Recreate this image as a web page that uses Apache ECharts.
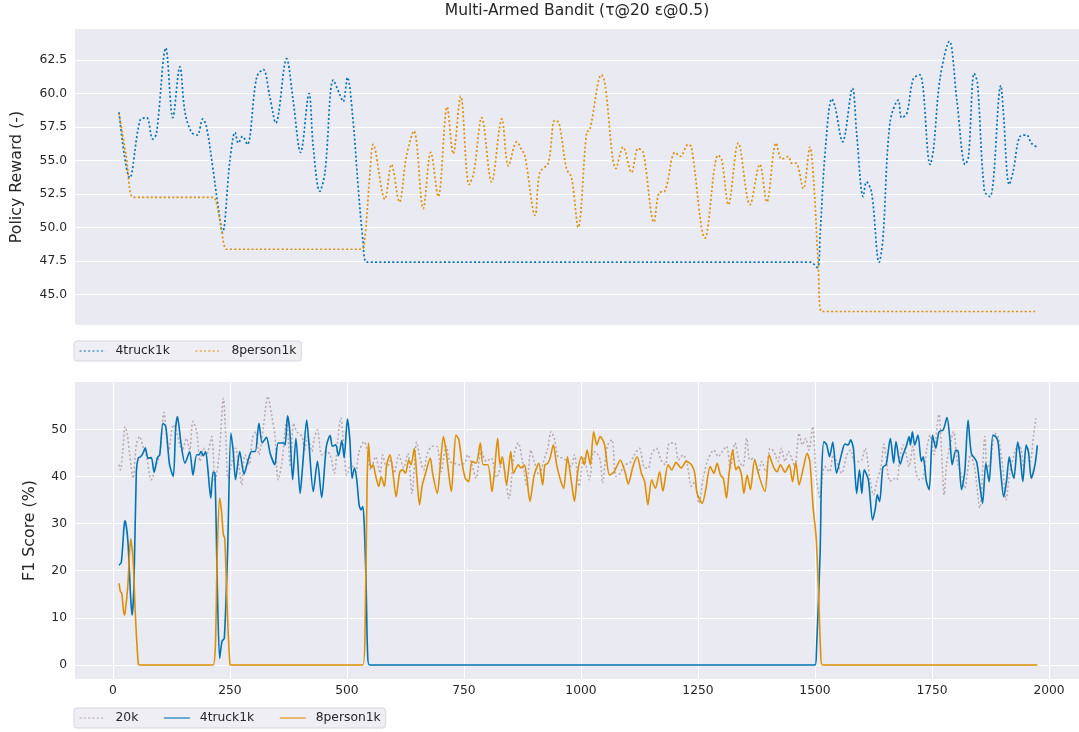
<!DOCTYPE html>
<html><head><meta charset="utf-8">
<script src="https://cdn.jsdelivr.net/npm/echarts@6/dist/echarts.min.js"></script>
<style>html,body{margin:0;padding:0;background:#fff}#c{width:1079px;height:732px}</style>
</head><body><div id="c"></div>
<script>
// ---- tick labels ----
const xTicks = [0, 250, 500, 750, 1000, 1250, 1500, 1750, 2000];
const rewardTicks = [45, 47.5, 50, 52.5, 55, 57.5, 60, 62.5];
const f1Ticks = [0, 10, 20, 30, 40, 50];

// ---- top panel: Policy Reward ----
const rewardTruck = [[13,58.6],[36,53.7],[58,58.0],[72,58.2],[85,56.6],[93,57.0],[113,63.4],[128,58.2],[143,62.0],[154,58.6],
[168,57.1],[180,56.9],[192,58.1],[200,57.5],[214,54.3],[225,51.5],[234,49.6],[250,55.0],[261,57.1],[268,56.3],[277,56.8],[287,56.2],
[307,61.2],[321,61.8],[335,59.8],[348,57.8],[371,62.6],[385,59.5],[401,55.6],[419,60.0],[428,56.0],[442,52.7],[453,54.1],
[471,61.0],[485,59.9],[492,59.4],[501,61.2],[513,58.0],[524,53.0],[534,49.1],[542,47.4],[560,47.4],[700,47.4],[900,47.4],
[1100,47.4],[1300,47.4],[1490,47.4],[1505,47.0],[1511,49.6],[1522,55.8],[1536,59.6],[1543,59.0],[1559,56.4],[1580,60.4],
[1589,57.0],[1603,52.3],[1610,53.4],[1621,52.6],[1637,47.4],[1645,49.1],[1660,57.8],[1678,59.5],[1685,58.2],[1696,58.5],
[1710,61.1],[1724,61.4],[1746,54.7],[1753,55.8],[1767,61.1],[1787,63.9],[1803,59.5],[1821,54.7],[1828,55.3],[1840,61.5],
[1847,60.8],[1862,52.7],[1874,52.3],[1897,60.6],[1902,58.8],[1915,53.2],[1924,54.3],[1938,56.8],[1952,56.9],[1962,56.3],[1974,56.0]];

const rewardPerson = [[13,58.5],[28,55.4],[43,52.25],[60,52.25],[100,52.25],[150,52.25],[200,52.25],[214,52.25],[229,50.5],
[243,48.37],[260,48.37],[350,48.37],[450,48.37],[531,48.37],[538,49.1],[549,54.0],[556,56.2],[581,52.1],[595,54.7],[612,51.9],
[627,55.3],[643,57.2],[663,51.4],[679,55.6],[695,52.3],[714,59.0],[727,55.5],[743,59.8],[761,53.2],[771,54.1],[788,58.2],
[809,53.4],[831,58.1],[845,54.6],[863,56.4],[873,55.8],[880,55.4],[902,50.9],[912,54.1],[930,54.8],[944,58.0],[953,57.8],
[969,54.4],[980,53.7],[994,50.0],[1012,57.1],[1019,57.3],[1044,61.4],[1051,60.8],[1075,54.4],[1090,56.0],[1108,54.1],
[1122,55.9],[1133,55.6],[1156,50.4],[1167,52.6],[1179,52.7],[1201,55.6],[1212,55.3],[1229,56.2],[1236,56.0],[1265,49.2],
[1293,55.4],[1301,55.0],[1315,51.7],[1336,56.3],[1361,51.7],[1382,54.7],[1397,51.9],[1417,56.3],[1429,55.1],[1443,55.3],
[1450,54.8],[1459,54.8],[1475,52.9],[1489,56.0],[1498,53.0],[1507,47.1],[1514,43.72],[1530,43.72],[1700,43.72],[1850,43.72],[1974,43.72]];

// ---- bottom panel: F1 Score ----
const f1Base20k = [[13,42.5],[16,41.4],[21,45.3],[26,50.6],[31,48.8],[36,44.6],[43,39.6],[50,46.7],[57,48.5],[64,46.4],[71,44.6],
[82,39.3],[93,42.5],[100,44.6],[109,53.6],[119,45.3],[129,51.0],[136,49.5],[143,46.7],[148,45.3],[157,48.1],[164,45.6],[171,51.7],
[179,49.5],[186,43.2],[193,46.0],[200,44.6],[211,48.5],[218,38.9],[227,44.6],[236,56.6],[241,48.8],[246,39.6],[253,42.5],[262,46.0],
[269,42.5],[275,38.2],[282,44.6],[291,42.5],[298,48.1],[305,49.5],[312,44.6],[321,50.2],[331,57.0],[339,53.1],[346,48.8],[353,39.3],
[361,42.8],[371,51.7],[379,42.1],[386,51.3],[393,49.5],[404,48.5],[409,45.5],[416,48.5],[425,45.3],[430,48.1],[437,49.9],[446,44.6],
[456,45.3],[464,44.6],[473,40.7],[480,47.4],[487,52.4],[494,45.3],[500,40.3],[509,42.8],[518,40.7],[526,45.3],[537,47.4],[544,45.3],
[551,41.4],[561,44.2],[571,40.7],[576,44.6],[585,41.8],[594,43.5],[601,40.7],[611,44.6],[621,41.8],[630,44.9],[639,36.4],[649,47.3],
[656,43.9],[664,41.4],[672,44.9],[683,46.4],[692,46.4],[701,41.0],[712,46.4],[720,43.2],[730,42.8],[739,42.5],[751,42.8],[758,44.6],
[766,42.8],[776,39.6],[787,45.3],[798,43.2],[808,43.9],[820,39.8],[832,43.2],[846,35.4],[857,44.6],[866,47.1],[875,43.2],[884,38.2],
[893,45.6],[900,43.2],[911,40.3],[920,43.2],[929,46.0],[936,49.5],[943,48.1],[951,44.2],[961,43.9],[970,43.2],[979,42.1],[986,44.6],
[996,37.9],[1006,44.2],[1018,39.3],[1027,45.3],[1034,44.9],[1041,43.5],[1046,38.6],[1056,46.4],[1066,47.8],[1075,40.0],[1084,40.7],
[1093,42.5],[1104,42.8],[1114,44.6],[1125,46.0],[1136,41.8],[1144,41.8],[1151,44.9],[1161,46.0],[1171,43.5],[1180,42.5],[1189,47.1],
[1200,47.1],[1208,43.5],[1218,44.6],[1227,42.5],[1236,37.9],[1243,38.9],[1252,34.3],[1261,39.6],[1271,43.5],[1284,45.6],[1293,44.2],
[1302,45.3],[1311,46.4],[1319,41.8],[1329,47.1],[1338,43.2],[1346,42.1],[1354,48.1],[1361,43.5],[1369,43.9],[1379,40.7],[1386,43.2],
[1395,41.0],[1404,46.0],[1412,45.3],[1421,43.2],[1428,46.0],[1436,43.2],[1443,45.3],[1450,43.9],[1457,42.1],[1466,49.2],[1473,46.7],
[1480,48.1],[1487,45.6],[1495,50.6],[1503,39.6],[1511,35.4],[1516,40.3],[1521,42.1],[1531,41.0],[1539,44.6],[1546,43.2],[1557,40.7],
[1568,44.6],[1576,45.6],[1584,43.2],[1593,43.2],[1600,43.5],[1607,46.0],[1618,38.9],[1625,36.1],[1632,38.9],[1641,42.1],[1647,46.9],
[1652,43.9],[1660,39.0],[1668,39.6],[1675,39.3],[1681,43.9],[1689,46.7],[1695,44.6],[1701,42.1],[1709,46.4],[1716,40.7],[1724,39.3],
[1731,39.6],[1739,46.0],[1746,48.8],[1754,44.6],[1761,51.0],[1765,53.2],[1770,46.0],[1776,36.1],[1781,42.5],[1788,46.4],[1796,49.5],
[1804,43.2],[1813,40.3],[1820,37.5],[1825,40.3],[1832,44.6],[1841,41.8],[1852,33.3],[1863,48.5],[1868,41.8],[1875,43.2],[1884,49.2],
[1891,48.5],[1901,42.1],[1908,35.0],[1916,40.7],[1927,45.3],[1934,46.7],[1941,45.6],[1946,41.4],[1952,46.7],[1960,43.2],[1967,48.8],[1972,52.4]];

const f1Truck = [[13,21.2],[18,21.8],[24,29.7],[26,30.6],[32,26.2],[38,14.2],[41,10.6],[45,17.0],[50,41.0],[54,43.9],[59,44.2],
[64,44.9],[69,46.1],[75,43.9],[82,44.0],[88,40.9],[95,44.0],[100,44.6],[107,51.3],[113,50.6],[121,42.5],[129,40.0],[134,50.2],
[138,52.7],[145,47.4],[154,42.8],[164,45.3],[171,40.3],[179,44.6],[184,44.6],[188,45.3],[193,44.4],[198,45.3],[203,41.4],[209,35.4],
[214,40.9],[218,40.7],[223,17.0],[228,1.4],[233,5.0],[238,5.7],[245,24.1],[252,49.2],[257,45.3],[262,39.3],[271,45.3],[280,40.5],
[289,43.5],[296,45.3],[304,45.3],[312,51.3],[319,47.1],[328,48.3],[336,44.9],[346,42.5],[353,47.1],[364,47.1],[368,46.7],[373,52.9],
[378,49.5],[384,39.3],[391,48.1],[400,36.4],[405,41.8],[414,52.0],[419,46.7],[428,36.8],[437,43.2],[446,35.5],[456,46.4],[464,48.7],
[469,46.4],[476,46.7],[482,44.4],[489,47.6],[494,44.0],[501,52.2],[506,48.1],[511,39.6],[516,41.8],[521,39.3],[526,34.0],[530,32.9],
[534,33.6],[537,29.7],[541,17.0],[544,2.8],[548,0],[700,0],[900,0],[1100,0],[1300,0],[1500,0],[1503,2.8],[1511,24.1],[1514,40.3],
[1519,47.4],[1525,46.7],[1531,44.2],[1538,47.3],[1546,40.7],[1557,44.9],[1564,46.9],[1571,46.7],[1576,47.8],[1582,46.0],[1589,36.4],
[1595,41.4],[1600,36.4],[1605,41.4],[1614,39.3],[1623,30.8],[1629,33.3],[1633,36.1],[1638,34.7],[1645,42.0],[1652,42.5],[1661,48.1],
[1668,42.8],[1673,47.4],[1682,42.6],[1688,44.6],[1695,46.4],[1701,48.5],[1704,46.7],[1708,49.5],[1713,46.7],[1720,48.8],[1727,43.2],
[1731,44.2],[1734,42.5],[1738,38.9],[1744,37.2],[1751,48.8],[1758,46.0],[1765,49.5],[1774,49.9],[1782,52.5],[1788,48.1],[1793,42.5],
[1801,45.6],[1806,45.3],[1813,37.2],[1820,41.0],[1827,52.0],[1834,44.9],[1845,43.2],[1852,38.2],[1858,34.3],[1865,42.8],[1872,38.9],
[1880,48.8],[1886,48.5],[1891,47.4],[1896,41.8],[1903,35.7],[1909,38.9],[1915,44.2],[1920,41.4],[1925,39.6],[1933,47.3],[1938,44.6],
[1944,38.9],[1951,46.6],[1956,45.3],[1962,39.6],[1970,42.5],[1975,46.6]];

const f1Person = [[13,17.3],[16,15.6],[19,15.2],[24,10.6],[26,11.0],[32,17.0],[38,26.8],[43,22.6],[48,10.6],[54,0.4],[57,0],
[100,0],[150,0],[200,0],[214,0],[219,4.2],[223,24.1],[228,35.4],[232,32.6],[236,27.6],[239,26.9],[245,9.9],[250,0.1],[252,0],
[300,0],[400,0],[500,0],[534,0],[539,9.9],[543,38.2],[546,47.1],[551,41.8],[556,42.5],[561,40.3],[568,37.9],[573,40.0],[580,37.9],
[585,42.5],[592,44.6],[598,41.0],[605,35.7],[613,41.0],[619,41.4],[625,40.7],[632,43.5],[637,42.5],[644,46.0],[649,40.3],[655,34.0],
[661,38.2],[668,40.7],[678,43.9],[683,40.7],[693,36.4],[699,41.8],[706,48.5],[712,45.3],[723,36.8],[728,43.2],[733,48.8],[739,47.8],
[746,42.8],[753,39.6],[760,38.9],[767,43.2],[776,42.8],[785,47.1],[791,42.5],[801,42.5],[810,36.8],[815,41.0],[822,48.1],[827,42.5],
[832,44.2],[841,38.2],[850,45.3],[856,40.7],[866,42.5],[872,41.8],[879,42.5],[884,40.0],[891,34.7],[900,40.3],[910,42.8],[918,38.2],
[923,42.5],[929,42.8],[934,43.9],[941,46.7],[948,42.5],[956,39.3],[963,37.5],[971,44.2],[979,39.3],[986,34.7],[993,41.0],[1001,44.2],
[1007,42.5],[1013,45.6],[1020,42.5],[1027,49.5],[1034,46.7],[1041,48.5],[1050,46.9],[1061,40.3],[1071,41.0],[1084,43.5],[1094,41.0],
[1101,38.4],[1111,42.1],[1120,44.2],[1129,40.7],[1136,38.9],[1143,34.0],[1151,39.3],[1159,37.5],[1168,41.0],[1175,36.9],[1186,42.5],
[1194,41.4],[1203,43.0],[1214,41.8],[1225,43.2],[1236,42.5],[1243,40.7],[1248,36.5],[1259,34.3],[1266,36.9],[1276,42.1],[1284,40.7],
[1291,42.8],[1298,40.3],[1304,39.6],[1311,35.4],[1316,40.3],[1324,45.6],[1331,41.4],[1336,42.1],[1343,40.3],[1348,36.4],[1355,40.3],
[1362,37.2],[1371,43.5],[1382,39.6],[1393,36.8],[1402,44.6],[1411,42.1],[1419,41.0],[1426,42.5],[1436,40.9],[1445,42.5],[1452,38.9],
[1459,43.0],[1466,38.2],[1475,41.8],[1483,44.9],[1489,43.2],[1496,33.3],[1502,27.6],[1507,17.0],[1512,2.8],[1516,0],[1600,0],
[1700,0],[1800,0],[1900,0],[1975,0]];

// ---- styling ----
const FONT = 'DejaVu Sans';
const TXT = '#262626';
const BLUE = '#0173b2';
const ORANGE = '#de8f05';
const GREY = 'rgba(140,112,112,0.55)';
const DOT = [2, 2.3];

const chart = echarts.init(document.getElementById('c'), null, {renderer: 'canvas'});

const legendCommon = {
  orient: 'horizontal', left: 74, itemWidth: 26, itemHeight: 12, itemGap: 25,
  padding: [4, 5, 4, 5], backgroundColor: '#eeeef4', borderColor: '#d6d6de', borderWidth: 1, borderRadius: 3,
  itemStyle: {opacity: 0, color: 'transparent', borderColor: 'transparent', borderWidth: 0},
  lineStyle: {width: 1.1},
  textStyle: {fontFamily: FONT, fontSize: 12.3, color: TXT, padding: [0, 0, 0, 5]},
  selectedMode: false
};

const option = {
  animation: false,
  backgroundColor: '#ffffff',
  title: {
    text: 'Multi-Armed Bandit (τ@20 ε@0.5)', left: 577, top: 3, textAlign: 'center', padding: 0,
    textStyle: {fontFamily: FONT, fontSize: 15.5, fontWeight: 'normal', color: TXT}
  },
  legend: [
    Object.assign({}, legendCommon, {top: 341, data: ['R:4truck1k', 'R:8person1k'], formatter: n => n.slice(2)}),
    Object.assign({}, legendCommon, {top: 708, data: ['20k', '4truck1k', '8person1k']})
  ],
  grid: [
    {left: 75, right: 0, top: 29, height: 296, show: true, backgroundColor: '#eaeaf2', borderWidth: 0},
    {left: 75, right: 0, top: 382, height: 297, show: true, backgroundColor: '#eaeaf2', borderWidth: 0}
  ],
  xAxis: [
    {gridIndex: 0, type: 'value', min: -81, max: 2064,
     axisLine: {show: false}, axisTick: {show: false, customValues: xTicks}, axisLabel: {show: false, customValues: xTicks},
     splitLine: {show: false}},
    {gridIndex: 1, type: 'value', min: -81, max: 2064,
     axisLine: {show: false}, axisTick: {show: false, customValues: xTicks},
     axisLabel: {customValues: xTicks, formatter: v => String(Math.round(v)), fontFamily: FONT, fontSize: 12.3, color: TXT, margin: 6},
     splitLine: {show: true, lineStyle: {color: '#ffffff', width: 1}}}
  ],
  yAxis: [
    {gridIndex: 0, type: 'value', min: 42.71, max: 64.82,
     name: 'Policy Reward (-)', nameLocation: 'middle', nameGap: 50,
     nameTextStyle: {fontFamily: FONT, fontSize: 15.8, color: TXT},
     axisLine: {show: false}, axisTick: {show: false, customValues: rewardTicks},
     axisLabel: {customValues: rewardTicks, formatter: v => Number(v).toFixed(1), fontFamily: FONT, fontSize: 12.3, color: TXT, margin: 8},
     splitLine: {show: true, lineStyle: {color: '#ffffff', width: 1}}},
    {gridIndex: 1, type: 'value', min: -2.97, max: 60.05,
     name: 'F1 Score (%)', nameLocation: 'middle', nameGap: 37,
     nameTextStyle: {fontFamily: FONT, fontSize: 15.8, color: TXT},
     axisLine: {show: false}, axisTick: {show: false, customValues: f1Ticks},
     axisLabel: {customValues: f1Ticks, formatter: v => String(Math.round(v)), fontFamily: FONT, fontSize: 12.3, color: TXT, margin: 8},
     splitLine: {show: true, lineStyle: {color: '#ffffff', width: 1}}}
  ],
  series: [
    {name: 'R:4truck1k', type: 'line', xAxisIndex: 0, yAxisIndex: 0, data: rewardTruck, symbol: 'none', smooth: 0.35,
     lineStyle: {color: BLUE, width: 1.7, type: DOT}, itemStyle: {color: BLUE}},
    {name: 'R:8person1k', type: 'line', xAxisIndex: 0, yAxisIndex: 0, data: rewardPerson, symbol: 'none', smooth: 0.35,
     lineStyle: {color: ORANGE, width: 1.7, type: DOT}, itemStyle: {color: ORANGE}},
    {name: '20k', type: 'line', xAxisIndex: 1, yAxisIndex: 1, data: f1Base20k, symbol: 'none', smooth: 0.3,
     lineStyle: {color: GREY, width: 1.5, type: DOT}, itemStyle: {color: GREY}},
    {name: '4truck1k', type: 'line', xAxisIndex: 1, yAxisIndex: 1, data: f1Truck, symbol: 'none', smooth: 0.25,
     lineStyle: {color: BLUE, width: 1.6}, itemStyle: {color: BLUE}},
    {name: '8person1k', type: 'line', xAxisIndex: 1, yAxisIndex: 1, data: f1Person, symbol: 'none', smooth: 0.25,
     lineStyle: {color: ORANGE, width: 1.6}, itemStyle: {color: ORANGE}}
  ]
};
chart.setOption(option);
</script></body></html>
